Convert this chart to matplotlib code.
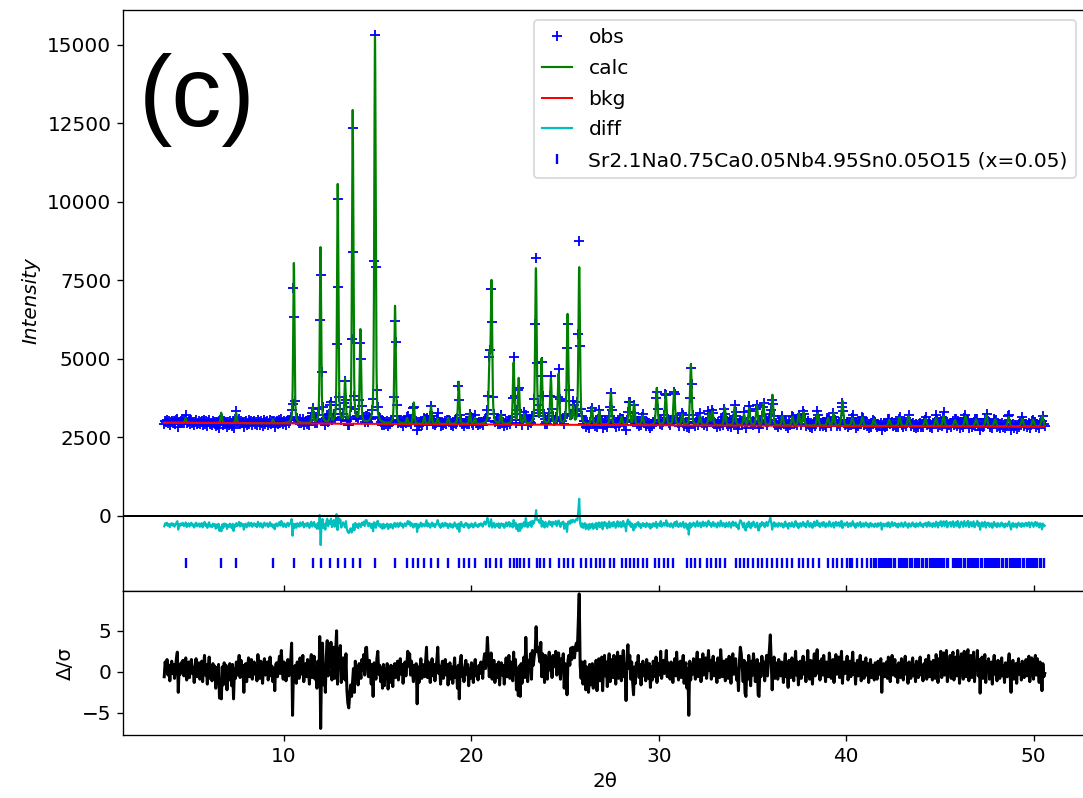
import numpy as np
import matplotlib
matplotlib.use("Agg")
import matplotlib.pyplot as plt

# ---------------------------------------------------------------------------
# Refined powder pattern: Sr2.1Na0.75Ca0.05Nb4.95Sn0.05O15 (x = 0.05)
# ---------------------------------------------------------------------------

# Bragg peaks of the calculated profile: position (deg 2-theta), net height (counts)
peak_pos = [4.74, 6.64, 7.44, 9.40, 10.52, 11.53, 11.94, 12.47, 12.86, 13.25,
            13.66, 14.07, 14.85, 15.92, 16.56, 16.92, 17.48, 17.84, 18.20, 18.76,
            19.32, 19.92, 20.19, 20.96, 21.07, 21.57, 22.25, 22.52, 22.82, 23.44,
            23.74, 24.24, 24.65, 25.13, 25.42, 25.75, 26.43, 26.82, 27.44, 28.01,
            28.42, 28.68, 29.13, 29.89, 30.37, 30.82, 31.25, 31.71, 32.20, 32.68,
            32.86, 33.52, 34.05, 34.55, 34.82, 35.23, 35.58, 36.06, 36.60, 37.13,
            37.47, 37.73, 38.48, 39.03, 39.33, 39.80, 40.33, 40.86, 41.48, 42.30,
            42.85, 43.33, 44.23, 44.79, 45.20, 45.81, 46.37, 46.93, 47.48, 47.95,
            48.67, 49.40, 49.97, 50.47]
peak_net = [150, 330, 330, 120, 5100, 500, 5600, 600, 7600, 1350,
            9950, 2950, 12300, 3750, 180, 680, 220, 560, 170, 200,
            1350, 360, 200, 2000, 4450, 300, 1950, 1450, 300, 4950,
            2050, 1450, 1600, 3500, 550, 5000, 540, 430, 1030, 250,
            780, 680, 300, 1180, 1030, 1130, 350, 1930, 300, 380,
            430, 560, 600, 350, 540, 630, 700, 980, 300, 280,
            380, 430, 400, 250, 400, 800, 250, 280, 220, 200,
            280, 320, 230, 250, 320, 200, 320, 220, 360, 230,
            300, 240, 220, 350]

# Background polynomial coefficients (counts, per deg, per deg^2)
bkg_coef = [2977.8, -3.618, 0.01768]

# Profile width parameters: FWHM = w0 + w1 * 2theta ; Lorentzian fraction
fwhm_w0, fwhm_w1, lorentz_frac = 0.072, 0.001, 0.4

# Scan: first point and step (deg), and normalised residuals (obs - calc)/sigma
scan_start, scan_step = 3.6, 0.05
delta_sigma = [
    -0.6, 1.2, 0.3, 1.5, -0.4, 0.8, -1.1, 0.6, 1.3, -0.2, 0.9, -0.8, 0.4, 1.6, 2.4, -2.5, 0.7, -0.3, 1.1, 0.2,
    1.4, -0.5, 0.6, 1.7, -1.0, 0.3, 1.2, -0.7, 0.9, 1.5, -0.2, 0.5, -1.3, 0.8, 1.6, -0.6, 0.2, 1.1, -0.9, 0.4,
    1.3, -1.2, 0.6, 2.0, -0.4, 0.9, -1.5, 0.3, 1.8, -0.8, 0.2, -1.1, 1.0, -0.3, 0.7, -2.0, 0.5, -1.4, 0.9, -3.2,
    -1.0, -3.3, 0.6, -1.6, 1.1, -0.5, 0.8, -2.2, 0.3, -1.0, 1.0, 0.2, -1.7, 0.9, -3.3, 0.4, -0.8, 1.2, -0.4, 0.6,
    2.0, -0.7, 1.4, -0.2, 0.8, -2.5, 0.5, 1.0, -1.2, 0.3, 1.7, -0.6, 0.9, 1.5, -0.9, 0.4, 1.2, -0.3, 0.7, -1.1,
    2.1, 0.6, -0.8, 1.3, 0.2, -1.4, 0.9, 1.6, -0.4, 0.5, 1.2, -1.0, 0.3, 1.8, -0.5, 0.7, -1.2, 0.4, -2.3, 0.9,
    1.1, -0.6, 0.8, 1.9, -0.2, 2.6, 0.4, -0.9, 1.2, 0.3, -1.1, 0.7, 1.5, -0.5, 0.9, 1.4, 3.5, -5.3, 0.6, -1.0,
    0.8, -1.4, 1.2, 0.3, -0.8, 1.7, -0.3, 0.6, 2.0, -1.2, 0.4, 1.0, -0.6, 1.5, 0.2, -1.5, 1.1, 2.1, -0.7, 0.5,
    1.9, -0.9, 0.5, -2.0, 1.3, -1.8, 4.3, -6.9, 1.0, 3.5, -1.6, 0.8, -2.5, 1.9, 3.8, -0.5, 2.6, 0.7, 3.6, -1.0,
    1.2, 3.0, -0.8, 2.4, 5.0, -1.5, 2.8, 1.0, 3.2, -1.3, 0.6, 1.7, 0.3, -1.0, 2.2, -2.2, -3.8, -4.4, -2.8, -1.6,
    -3.0, -1.2, 0.4, -2.5, 1.3, -0.9, 0.6, -1.6, 1.0, 0.3, -0.8, 1.5, 0.2, 2.1, -0.4, 2.9, 3.0, 0.8, -0.6, 1.4,
    0.2, -1.5, 0.9, -3.0, 1.1, 0.4, -0.9, 1.6, 2.5, -0.3, 0.8, -1.2, 0.5, -2.0, 0.9, -1.7, 0.3, -0.6, 1.0, -2.1,
    0.5, -1.3, 0.8, -0.2, -1.8, 0.6, 1.0, -0.7, 0.2, 1.3, -1.0, 0.4, 1.6, -0.3, 0.9, -1.4, 0.5, 1.2, -0.5, 0.8,
    2.5, 0.7, 2.2, -0.4, 1.3, 0.1, -1.2, 0.8, -0.5, 1.0, -3.9, 0.6, -1.3, 0.4, 1.6, -0.8, 0.9, 0.3, -0.6, 1.1,
    3.0, -0.7, 1.2, 0.2, -1.3, 0.8, 1.6, -0.5, 0.9, -1.1, 0.4, 1.4, 3.0, -0.2, 0.7, -1.5, 0.5, 1.3, -0.8, 0.6,
    1.5, -0.4, 0.9, -1.6, 0.3, 1.1, -0.9, 0.6, -1.4, 0.2, 1.7, -0.7, 0.5, -2.0, 0.8, -3.3, 1.2, 2.0, -0.6, 0.4,
    -1.2, 0.7, 1.4, -0.3, 0.9, -1.7, 0.4, -0.8, 1.1, 0.2, -1.3, 0.6, 1.5, -0.5, 0.3, -1.0, 0.8, -0.2, 1.2, 0.5,
    -0.8, 1.3, 2.2, 0.4, 1.6, 4.2, 1.8, -0.6, 1.0, 2.3, -0.9, 0.6, 1.4, -1.3, 0.3, 0.9, -0.7, 1.2, -1.6, 0.5,
    1.1, -0.4, 0.8, -1.5, 0.3, 1.7, -0.6, 0.9, 2.0, -0.8, 1.2, 0.2, -1.1, 2.4, -0.3, 1.5, -2.2, 0.4, -2.9, 0.7,
    -3.0, 1.0, -1.4, 0.6, 1.8, -0.7, 4.2, 0.9, -1.2, 1.4, 0.3, 2.2, -0.9, 2.6, 0.8, 1.9, 2.5, 5.5, 2.5, 3.0,
    2.0, 1.2, 3.6, -0.6, 2.2, 1.0, -1.3, 2.0, 0.5, -0.9, 1.4, 2.4, 0.2, 1.6, -0.7, 2.0, 0.6, 1.1, 2.5, -0.4,
    1.3, 2.3, 0.3, -0.9, 1.6, 0.7, 2.2, -2.0, 1.0, 0.5, -2.8, 1.4, 2.0, 0.8, 2.9, 1.5, 3.0, 2.4, 1.7, 3.1,
    3.5, 2.6, 6.2, 9.5, 0.8, -0.8, 1.2, -1.5, 0.4, 1.3, -2.2, 0.6, -1.0, -2.5, 0.9, -1.6, 0.3, 1.0, -2.0, 0.5,
    -1.3, 1.4, -2.3, 0.8, 1.6, -1.1, 0.2, 1.8, -2.3, 0.6, 2.0, -0.5, 1.2, -1.8, 0.9, 2.2, -1.2, 0.4, 1.5, -0.7,
    2.0, 0.3, -1.5, 1.2, 2.4, -0.8, 0.7, 1.9, -1.1, 0.5, 2.6, -0.6, 1.0, -3.5, 1.7, 3.3, 0.4, 2.0, -0.9, 1.2,
    -1.2, -2.8, 0.6, -1.4, 1.1, 0.2, 2.0, -0.7, 0.9, -1.6, 0.3, 1.3, -0.5, 0.8, -1.1, 1.5, 0.4, -0.8, 1.0, -1.9,
    0.6, -1.0, 1.3, 0.2, -0.6, 1.8, -1.3, 0.5, 1.0, -0.4, 2.5, -0.8, 0.7, 1.4, -0.2, 0.9, 2.6, -0.6, 1.1, 0.3,
    -0.9, 1.2, 0.4, -1.3, 0.8, 1.6, -0.5, 2.4, 0.2, -1.0, 0.9, 1.3, -0.7, 0.5, 2.0, -1.4, 0.6, 1.1, -2.0, 0.4,
    -5.3, 1.3, -1.0, 0.8, -0.3, 1.6, 0.5, -0.9, 1.2, 2.4, -0.6, 0.7, 1.5, -1.2, 0.3, 2.2, -0.4, 0.9, 1.7, -0.8,
    0.6, 2.6, 0.2, 1.4, -0.9, 0.8, 1.9, -0.5, 1.1, 0.3, -1.3, 1.7, 0.5, -0.7, 2.7, 1.0, -0.6, 1.3, 0.4, -1.1,
    1.5, 0.3, -0.8, 1.9, 0.7, -1.4, 1.2, 2.2, -0.3, 0.9, 1.6, -1.0, 0.4, -2.3, 1.3, 3.0, 2.2, 0.6, -1.2, 1.4,
    -2.6, -3.0, 1.1, -0.9, 2.0, 0.5, -1.7, 1.3, -0.4, 2.2, 0.8, -1.2, 0.4, 1.5, -2.8, -3.0, 1.0, -0.6, 1.9, 0.3,
    1.2, -1.1, 0.7, 2.0, -0.5, 1.4, 2.6, 4.5, 1.3, -2.2, 0.6, 1.8, -0.8, 1.1, 0.2, -0.9, 1.5, 0.4, -0.5, 1.2,
    0.3, -1.3, 1.0, 2.2, -0.6, 0.8, -1.9, 1.4, 0.2, -0.7, 1.7, 0.5, -1.1, 0.9, 2.5, -0.4, 1.2, -1.6, 0.6, 1.3,
    -0.8, 0.7, 1.9, -0.3, 1.1, -1.2, 0.5, 2.6, 0.1, -0.9, 1.4, 0.6, -1.5, 1.0, 2.2, -0.5, 0.8, 2.7, -0.2, 1.3,
    -1.0, 0.6, 1.6, -0.4, 2.0, 0.3, -1.2, 1.2, 0.7, -0.6, 2.3, 1.0, -0.8, 0.4, 1.5, -1.3, 0.9, 2.1, -0.3, 0.6,
    1.8, -0.7, 1.1, 2.5, -1.4, 0.5, 1.2, -0.2, 0.8, 1.9, -1.0, 0.4, 1.3, -0.6, 0.9, 2.4, -0.3, 1.0, -1.5, 0.6,
    1.4, -0.5, 0.9, 2.0, -1.1, 0.3, 1.2, -0.8, 0.6, 1.7, -0.4, 1.0, -1.3, 0.5, 1.5, -0.7, 0.8, 0.2, -1.0, 1.1,
    0.4, -0.9, 1.3, -0.3, 0.8, 1.6, -2.5, 0.6, 1.0, -0.6, 0.3, 1.2, -0.8, 1.8, 0.5, -1.2, 0.9, 2.0, -0.4, 0.7,
    1.5, -0.6, 0.8, -1.3, 1.1, 0.2, -0.7, 1.6, 0.5, -1.0, 0.9, 1.9, -0.3, 0.6, -1.4, 1.2, 0.3, -0.8, 1.0, 1.7,
    -0.5, 0.8, -1.2, 1.3, 0.4, -0.7, 1.1, 1.8, -0.4, 0.6, -1.1, 1.0, 0.2, 1.5, -0.9, 0.7, 2.0, -0.6, 1.2, 0.3,
    -1.0, 1.4, 0.5, -0.8, 2.1, 0.9, -1.3, 1.6, 0.3, 2.5, -0.7, 1.1, 2.3, -0.4, 0.8, 2.6, -1.2, 1.3, 0.6, 2.0,
    -0.8, 1.5, 2.4, -1.0, 0.7, 1.8, -0.5, 2.6, 0.9, -1.4, 1.2, 2.2, 0.3, -0.9, 2.5, 1.0, -0.6, 1.7, 2.7, -1.1,
    1.3, 2.0, -0.7, 0.8, 2.4, -1.2, 1.0, 0.4, 2.6, -0.5, 1.5, -2.6, 0.9, 1.8, -0.8, 0.5, 2.1, -1.3, 1.2, 0.3,
    1.6, -0.9, 0.6, 1.2, -1.5, 0.8, 2.0, -0.3, 0.9, -1.1, 1.4, 0.2, -0.8, 1.0, 1.7, -0.5, 0.7, -1.3, 1.1, 0.4,
    -0.6, 1.2, 2.2, -0.4, -2.5, 0.8, 1.4, -0.9, 0.5, 1.0, -1.4, 0.7, 1.6, -0.3, 0.9, -1.0, 1.3, 0.2, -0.7, 1.1,
    1.5, -0.5, 0.8, 1.9, -1.2, 0.6, 1.7, 0.3, -0.9, 1.4, 2.0, -0.4, 1.6, 0.5, -1.3, 1.2, 0.8, -2.3, 1.0, -0.6,
    -0.2,
]

# Reflection positions of the phase (deg 2-theta)
refl_pos = [4.74, 6.64, 7.44, 9.40, 10.52, 11.53, 11.97, 12.47, 12.86, 13.25,
            13.66, 14.07, 14.85, 15.92, 16.56, 16.86, 17.16, 17.48, 17.84, 18.20,
            18.76, 19.35, 19.62, 19.88, 20.19, 20.77, 21.00, 21.31, 21.57, 22.07,
            22.25, 22.43, 22.60, 22.82, 23.08, 23.49, 23.67, 23.88, 24.20, 24.68,
            24.92, 25.13, 25.40, 25.84, 26.11, 26.37, 26.64, 26.87, 27.05, 27.40,
            27.62, 28.01, 28.24, 28.47, 28.68, 28.90, 29.13, 29.36, 29.79, 30.02,
            30.25, 30.50, 30.78, 31.49, 31.71, 31.92, 32.20, 32.56, 32.81, 33.04,
            33.27, 33.52, 34.11, 34.34, 34.55, 34.76, 35.05, 35.30, 35.53, 35.80,
            36.06, 36.29, 36.60, 36.83, 37.13, 37.48, 37.72, 37.96, 38.21, 38.55,
            39.03, 39.30, 39.53, 39.80, 40.06, 40.20, 40.33, 40.60, 40.86, 41.13,
            41.30, 41.50, 41.61, 41.75, 41.85, 41.98, 42.07, 42.19, 42.31, 42.41,
            42.53, 42.63, 42.82, 42.92, 43.05, 43.15, 43.26, 43.39, 43.49, 43.68,
            43.80, 43.89, 44.02, 44.12, 44.24, 44.34, 44.46, 44.58, 44.67, 44.80,
            44.90, 45.01, 45.14, 45.23, 45.36, 45.46, 45.70, 45.82, 45.91, 46.04,
            46.13, 46.27, 46.36, 46.49, 46.59, 46.72, 46.81, 46.94, 47.03, 47.17,
            47.26, 47.39, 47.49, 47.62, 47.71, 47.84, 47.94, 48.07, 48.16, 48.29,
            48.39, 48.52, 48.61, 48.74, 48.84, 48.97, 49.06, 49.19, 49.29, 49.42,
            49.51, 49.64, 49.74, 49.87, 49.96, 50.09, 50.19, 50.32, 50.41, 50.55]

phase_name = "Sr2.1Na0.75Ca0.05Nb4.95Sn0.05O15 (x=0.05)"
diff_offset = -300.0
refl_level = -1500.0


def background(t):
    return np.polynomial.polynomial.polyval(t, bkg_coef)


def profile(t):
    """Background plus pseudo-Voigt Bragg peaks."""
    y = background(t)
    for p, h in zip(peak_pos, peak_net):
        w = fwhm_w0 + fwhm_w1 * p
        dx = (t - p) / (0.5 * w)
        gauss = np.exp(-np.log(2.0) * dx ** 2)
        lorentz = 1.0 / (1.0 + dx ** 2)
        y = y + h * (lorentz_frac * lorentz + (1.0 - lorentz_frac) * gauss)
    return y


ds = np.asarray(delta_sigma)
tth_obs = scan_start + scan_step * np.arange(ds.size)
calc_at_obs = profile(tth_obs)
sigma = np.sqrt(calc_at_obs)
obs = calc_at_obs + ds * sigma
diff = obs - calc_at_obs

tth_fine = np.linspace(tth_obs[0], tth_obs[-1], 9401)
calc_fine = profile(tth_fine)
bkg_fine = background(tth_fine)

# ---------------------------------------------------------------------------
plt.rcParams["font.family"] = ["DejaVu Sans"]
plt.rcParams["font.size"] = 12

W, H, DPI = 1083, 798, 120
fig = plt.figure(figsize=(W / DPI, H / DPI), dpi=DPI)

left = 123 / W
right = 1086 / W
ax = fig.add_axes([left, (H - 591) / H, right - left, (591 - 10) / H])
axd = fig.add_axes([left, (H - 735) / H, right - left, (735 - 591) / H], sharex=ax)

ax.plot(tth_obs, obs, "+", color="b", ms=6, mew=1.1, label="obs")
ax.plot(tth_fine, calc_fine, color="g", lw=1.3, label="calc")
ax.plot(tth_fine, bkg_fine, color="r", lw=1.2, label="bkg")
ax.plot(tth_obs, diff + diff_offset, color="c", lw=1.3, label="diff")
ax.plot(refl_pos, np.full(len(refl_pos), refl_level), "|", color="b",
        ms=6.5, mew=1.4, label=phase_name)
ax.axhline(0.0, color="k", lw=1.2)

ax.set_xlim(1.4, 52.8)
ax.set_ylim(-2390, 16100)
ax.set_ylabel("Intensity", style="italic")
ax.tick_params(axis="x", bottom=False, labelbottom=False)
ax.legend(loc="upper right", fontsize=12.15, handlelength=1.5,
          labelspacing=0.58)

axd.plot(tth_obs, ds, color="k", lw=1.8)
axd.set_ylim(-7.7, 9.85)
axd.set_yticks([-5, 0, 5])
axd.set_ylabel("Δ/σ")
axd.set_xlabel("2θ")
axd.set_xticks([10, 20, 30, 40, 50])
axd.tick_params(axis="x", top=True)

fig.text(139 / W, 1 - 100 / H, "(c)", fontsize=60, family="Liberation Sans",
         ha="left", va="center")

fig.savefig("out.png", dpi=DPI)
